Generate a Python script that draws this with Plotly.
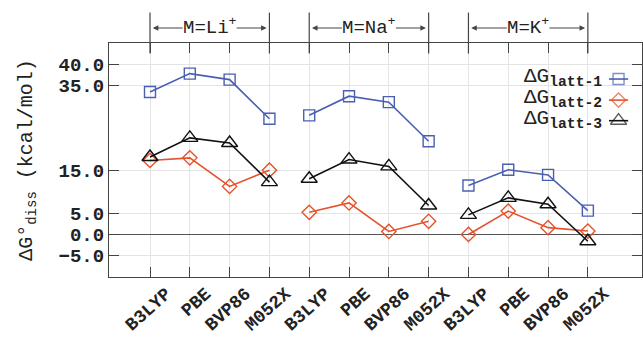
import plotly.graph_objects as go

methods = ["B3LYP", "PBE", "BVP86", "M052X"]
ions = ["Li", "Na", "K"]
latt1 = [33.5, 37.8, 36.4, 27.2, 28.0, 32.5, 31.1, 21.9, 11.5, 15.2, 14.0, 5.6]
latt2 = [17.4, 18.0, 11.3, 15.1, 5.2, 7.4, 0.7, 3.1, 0.0, 5.5, 1.6, 0.8]
latt3 = [18.2, 22.7, 21.5, 12.3, 13.1, 17.6, 16.0, 6.8, 4.6, 8.6, 7.1, -1.6]
ytickvals = [-5, 0, 5, 15, 35, 40]

FONT = "Liberation Mono"
series = [
    ("latt-1", latt1, "#4a5fb4", "square-open", 11),
    ("latt-2", latt2, "#e4532b", "diamond-open", 11),
    ("latt-3", latt3, "#111111", "triangle-up-open", 14),
]

xs = list(range(len(methods) * len(ions)))
labels = methods * len(ions)

fig = go.Figure()
for name, vals, col, sym, ms in series:
    for g in range(len(ions)):
        sl = slice(4 * g, 4 * g + 4)
        fig.add_trace(go.Scatter(
            x=xs[sl], y=vals[sl], mode="lines+markers",
            line=dict(color=col, width=1.6),
            marker=dict(symbol=sym, size=ms, color=col, line=dict(width=1.4, color=col)),
            showlegend=False, xaxis="x", yaxis="y"))

# custom legend (text left, symbol right)
leg_y = [0.846, 0.756, 0.668]
for (name, vals, col, sym, ms), yy in zip(series, leg_y):
    fig.add_trace(go.Scatter(
        x=[0.938, 0.956, 0.974], y=[yy, yy, yy], mode="lines+markers",
        line=dict(color=col, width=1.6),
        marker=dict(symbol=sym, size=[0, ms, 0], color=col, line=dict(width=1.4, color=col)),
        showlegend=False, xaxis="x2", yaxis="y2", hoverinfo="skip"))
    fig.add_annotation(
        x=0.928, y=yy + 0.005, xref="paper", yref="paper", xanchor="right", yanchor="middle",
        text="ΔG<sub><b>%s</b></sub>" % name, showarrow=False,
        font=dict(family=FONT, size=21, color="#222"))

# group brackets and labels
shapes = []
for g, ion in enumerate(ions):
    a, b = 4 * g, 4 * g + 3
    for xv in (a, b):
        shapes.append(dict(type="line", xref="x", yref="paper", x0=xv, x1=xv,
                           y0=0.955, y1=1.13, line=dict(color="#444", width=1.2)))
    c = (a + b) / 2
    fig.add_annotation(x=c, y=1.07, xref="x", yref="paper", showarrow=False,
                       xanchor="center", yanchor="middle",
                       text="M=%s<sup>+</sup>" % ion, font=dict(family=FONT, size=19, color="#222"))
    half = ((2 + len(ion)) * 11.4 + 7) / 2 / 39.8 - 0.02
    for tail, tip in ((c - half, a + 0.07), (c + half, b - 0.07)):
        fig.add_annotation(x=tip, y=1.064, xref="x", yref="paper", ax=tail, ay=0,
                           axref="x", ayref="pixel", text="", showarrow=True,
                           arrowhead=2, arrowsize=1.0, arrowwidth=1.1, arrowcolor="#444")

fig.update_layout(
    width=643, height=338,
    margin=dict(l=109, r=1, t=43, b=61),
    paper_bgcolor="white", plot_bgcolor="white",
    font=dict(family=FONT, size=19, color="#222"),
    shapes=shapes,
    xaxis=dict(range=[-1.03, 12.36], tickvals=xs, ticktext=labels, tickangle=-42,
               ticks="inside", ticklen=10, tickcolor="#444", showline=True, linecolor="#444",
               linewidth=1.2, mirror="ticks", showgrid=True, gridcolor="#e4e4e4", zeroline=False,
               ticklabelshift=16, ticklabelstandoff=-2, automargin=False,
               tickfont=dict(family=FONT, size=18, weight="bold", color="#222")),
    yaxis=dict(range=[-10, 45], tickvals=ytickvals, tickformat=".1f", ticks="inside",
               ticklen=10, tickcolor="#444", showline=True, linecolor="#444", linewidth=1.2,
               mirror="ticks", showgrid=True, gridcolor="#e4e4e4", zeroline=True,
               zerolinecolor="#555", zerolinewidth=1.2, automargin=False,
               tickfont=dict(family=FONT, size=19, weight="bold", color="#222"),
               title=dict(text="ΔG°<sub>diss</sub> (kcal/mol)", standoff=20,
                          font=dict(family=FONT, size=20, color="#222"))),
    xaxis2=dict(range=[0, 1], overlaying="x", visible=False),
    yaxis2=dict(range=[0, 1], overlaying="y", visible=False),
)

fig.write_html("out.html", config={"displayModeBar": False},
               post_script="document.body.style.margin='0px';")
